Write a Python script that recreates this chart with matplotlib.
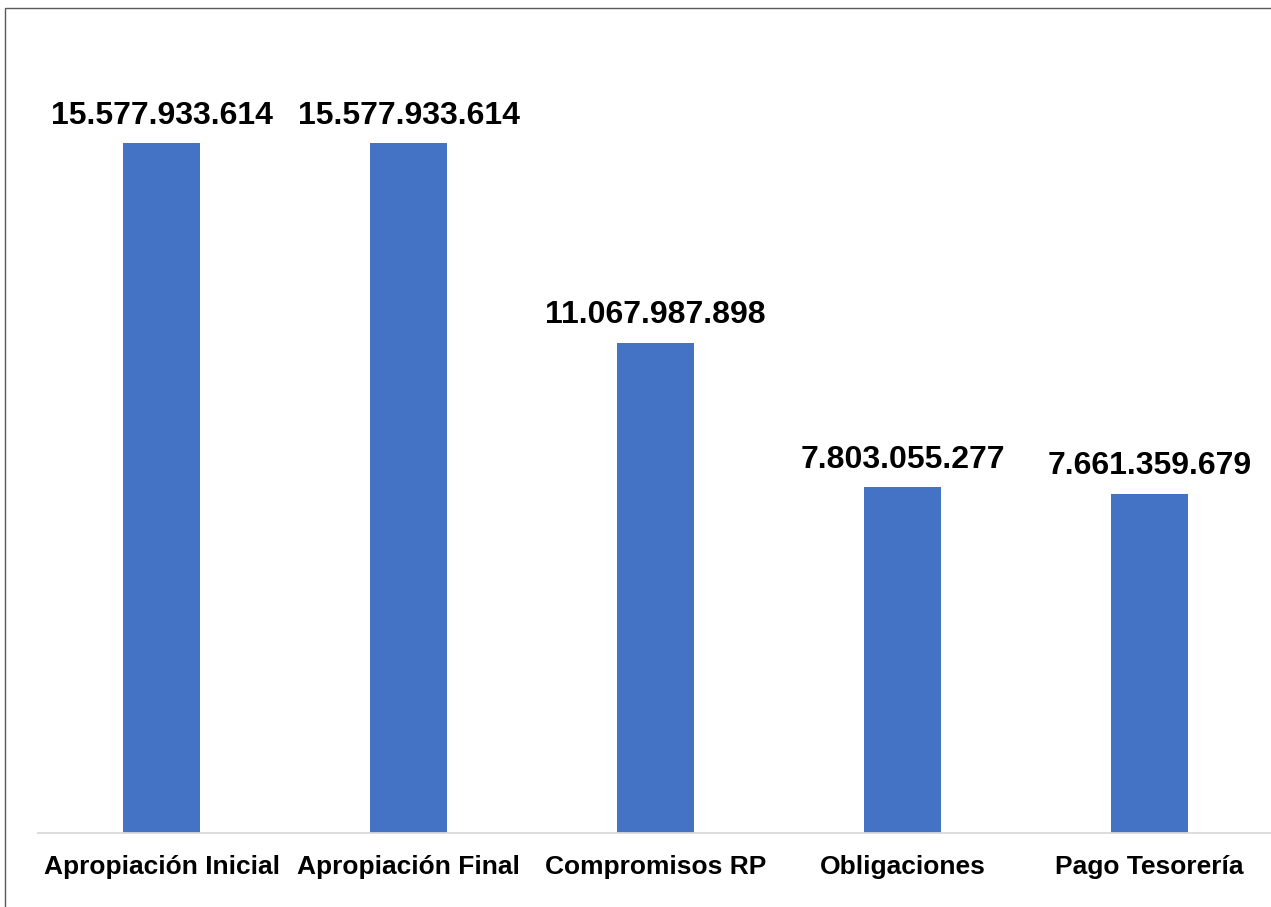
import matplotlib.pyplot as plt
from matplotlib.patches import Rectangle

# Data
categories = ['Apropiación Inicial', 'Apropiación Final', 'Compromisos RP',
              'Obligaciones', 'Pago Tesorería']
values = [15577933614, 15577933614, 11067987898, 7803055277, 7661359679]

BAR_COLOR = '#4472C4'


def fmt(v):
    return f'{v:,}'.replace(',', '.')


def main():
    plt.rcParams['font.family'] = ['Liberation Sans', 'DejaVu Sans']
    W, H = 1271, 907
    fig = plt.figure(figsize=(W / 100, H / 100), dpi=100)

    # axes placement in pixels: left 38, right 1273, baseline 833, top 35
    ax = fig.add_axes([38 / W, (H - 833) / H, 1235 / W, 798 / H])
    x = list(range(len(categories)))
    bars = ax.bar(x, values, width=0.31, color=BAR_COLOR, zorder=2)
    ax.set_xlim(-0.5, len(categories) - 0.5)
    ax.set_ylim(0, 18.02e9)

    for b, v in zip(bars, values):
        ax.annotate(fmt(v), (b.get_x() + b.get_width() / 2, b.get_height()),
                    xytext=(0, 9), textcoords='offset points',
                    ha='center', va='bottom', fontsize=23, fontweight='bold')

    for s in ['top', 'right', 'left']:
        ax.spines[s].set_visible(False)
    ax.spines['bottom'].set_color('#D9D9D9')
    ax.spines['bottom'].set_linewidth(1.3)
    ax.set_yticks([])
    ax.set_xticks(x)
    ax.set_xticklabels(categories, fontsize=19, fontweight='bold')
    ax.tick_params(axis='x', length=0, pad=16)

    # outer frame
    fig.patches.append(Rectangle((5 / W, -0.1), 1.2, 1.1 - 8 / H,
                                 transform=fig.transFigure, fill=False,
                                 edgecolor='#595959', linewidth=1.0))

    fig.savefig('out.png', dpi=100)
    plt.close(fig)


if __name__ == "__main__":
    main()
